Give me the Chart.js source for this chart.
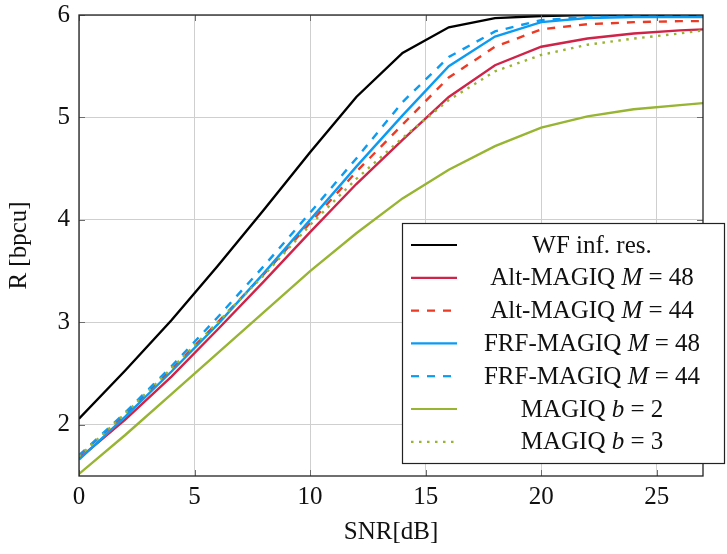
<!DOCTYPE html>
<html>
<head>
<meta charset="utf-8">
<script src="https://cdn.jsdelivr.net/npm/chart.js@4.4.1/dist/chart.umd.min.js"></script>
<style>
  html, body { margin: 0; padding: 0; background: #fff; }
  #wrap { width: 727px; height: 554px; }
</style>
</head>
<body>
<div id="wrap"><canvas id="c" width="727" height="554"></canvas></div>
<script>
// SNR grid (dB)
const snr = [0, 2, 4, 6, 8, 10, 12, 14, 16, 18, 20, 22, 24, 26, 27];

// Achievable rate R [bpcu] per scheme
const wfInfRes   = [2.06, 2.53, 3.02, 3.55, 4.10, 4.66, 5.20, 5.63, 5.88, 5.97, 5.99, 6.00, 6.00, 6.00, 6.00];
const altM48     = [1.67, 2.05, 2.47, 2.93, 3.40, 3.88, 4.35, 4.78, 5.20, 5.51, 5.69, 5.77, 5.82, 5.85, 5.86];
const altM44     = [1.70, 2.10, 2.54, 3.00, 3.47, 3.97, 4.47, 4.93, 5.39, 5.69, 5.86, 5.91, 5.93, 5.94, 5.94];
const frfM48     = [1.66, 2.08, 2.52, 2.98, 3.48, 4.00, 4.52, 5.02, 5.50, 5.79, 5.93, 5.97, 5.98, 5.98, 5.98];
const frfM44     = [1.70, 2.12, 2.57, 3.05, 3.55, 4.07, 4.60, 5.15, 5.59, 5.84, 5.95, 5.98, 5.99, 5.99, 5.99];
const magiqB2    = [1.52, 1.90, 2.30, 2.70, 3.10, 3.50, 3.87, 4.21, 4.49, 4.72, 4.90, 5.01, 5.08, 5.12, 5.14];
const magiqB3    = [1.69, 2.11, 2.55, 3.00, 3.46, 3.95, 4.40, 4.80, 5.17, 5.45, 5.61, 5.71, 5.77, 5.82, 5.85];

// Legend names; text between $...$ is set in italics
const seriesNames = [
  'WF inf. res.',
  'Alt-MAGIQ $M$ = 48',
  'Alt-MAGIQ $M$ = 44',
  'FRF-MAGIQ $M$ = 48',
  'FRF-MAGIQ $M$ = 44',
  'MAGIQ $b$ = 2',
  'MAGIQ $b$ = 3'
];

// Axis ticks
const xTicks = [0, 5, 10, 15, 20, 25];
const yTicks = [2, 3, 4, 5, 6];

const SERIF = '"Liberation Serif", "DejaVu Serif", serif';

const styles = [
  { color: '#000000', dash: [] },
  { color: '#cf2348', dash: [] },
  { color: '#ec3a24', dash: [8, 8] },
  { color: '#0c9bf2', dash: [] },
  { color: '#0c9bf2', dash: [8, 8] },
  { color: '#97b432', dash: [] },
  { color: '#97b432', dash: [2.5, 5.5] }
];
const seriesData = [wfInfRes, altM48, altM44, frfM48, frfM44, magiqB2, magiqB3];

const datasets = seriesData.map((vals, i) => ({
  label: seriesNames[i].replace(/\$/g, ''),
  data: vals.map((v, k) => ({ x: snr[k], y: v })),
  borderColor: styles[i].color,
  borderDash: styles[i].dash,
  borderWidth: 2.4,
  pointRadius: 0,
  tension: 0,
  fill: false,
  order: seriesData.length - i
}));

// Inner tick marks and the closed frame round the plot area
const framePlugin = {
  id: 'frame',
  afterDatasetsDraw(chart) {
    const { ctx, chartArea: a, scales } = chart;
    ctx.save();
    ctx.strokeStyle = '#6e6e6e';
    ctx.lineWidth = 1;
    const L = 6;
    xTicks.forEach(v => {
      const px = Math.round(scales.x.getPixelForValue(v)) + 0.5;
      ctx.beginPath();
      ctx.moveTo(px, a.bottom); ctx.lineTo(px, a.bottom - L);
      ctx.moveTo(px, a.top); ctx.lineTo(px, a.top + L);
      ctx.stroke();
    });
    yTicks.forEach(v => {
      const py = Math.round(scales.y.getPixelForValue(v)) + 0.5;
      ctx.beginPath();
      ctx.moveTo(a.left, py); ctx.lineTo(a.left + L, py);
      ctx.moveTo(a.right, py); ctx.lineTo(a.right - L, py);
      ctx.stroke();
    });
    ctx.strokeStyle = '#222';
    ctx.lineWidth = 1.3;
    ctx.strokeRect(a.left, a.top, a.right - a.left, a.bottom - a.top);
    ctx.restore();
  }
};

// Boxed legend in the lower right, labels centred beside the line samples
const legendPlugin = {
  id: 'boxLegend',
  afterDraw(chart) {
    const { ctx } = chart;
    const box = { x: 402.5, y: 223.5, w: 322, h: 240 };
    ctx.save();
    ctx.fillStyle = '#fff';
    ctx.fillRect(box.x, box.y, box.w, box.h);
    ctx.strokeStyle = '#222';
    ctx.lineWidth = 1.2;
    ctx.strokeRect(box.x, box.y, box.w, box.h);
    const rowTop = 245, rowStep = 32.8;
    const size = 25;
    seriesNames.forEach((name, i) => {
      const cy = rowTop + i * rowStep;
      const ds = chart.data.datasets[i];
      ctx.strokeStyle = ds.borderColor;
      ctx.lineWidth = 2.2;
      ctx.setLineDash(ds.borderDash);
      ctx.beginPath();
      ctx.moveTo(411, cy); ctx.lineTo(457, cy);
      ctx.stroke();
      ctx.setLineDash([]);
      // split into roman / italic runs
      const parts = name.split('$').map((t, k) => ({ t, it: k % 2 === 1 })).filter(p => p.t);
      const fontOf = p => (p.it ? 'italic ' : '') + size + 'px ' + SERIF;
      let total = 0;
      parts.forEach(p => { ctx.font = fontOf(p); total += ctx.measureText(p.t).width; });
      let x = 592 - total / 2;
      ctx.fillStyle = '#111';
      ctx.textBaseline = 'middle';
      ctx.textAlign = 'left';
      parts.forEach(p => {
        ctx.font = fontOf(p);
        ctx.fillText(p.t, x, cy + 1);
        x += ctx.measureText(p.t).width;
      });
    });
    ctx.restore();
  }
};

new Chart(document.getElementById('c'), {
  type: 'line',
  data: { datasets },
  options: {
    responsive: false,
    animation: false,
    layout: { padding: { top: 15, right: 24, left: 0, bottom: 0 } },
    plugins: { legend: { display: false }, tooltip: { enabled: false } },
    scales: {
      x: {
        type: 'linear',
        min: 0, max: 27,
        afterBuildTicks: s => { s.ticks = xTicks.map(v => ({ value: v })); },
        afterFit: s => { s.height = 78; s.paddingLeft = 0; s.paddingRight = 0; },
        grid: { color: '#cfcfcf', lineWidth: 1, drawTicks: false },
        border: { display: false },
        ticks: { color: '#111', font: { family: SERIF, size: 25 }, padding: 6, maxRotation: 0 },
        title: { display: true, text: 'SNR[dB]', color: '#111', font: { family: SERIF, size: 25 }, padding: { top: 0, bottom: 7 } }
      },
      y: {
        type: 'linear',
        min: 1.5, max: 6,
        afterBuildTicks: s => { s.ticks = yTicks.map(v => ({ value: v })); },
        afterFit: s => { s.width = 79; s.paddingTop = 0; s.paddingBottom = 0; },
        grid: { color: '#cfcfcf', lineWidth: 1, drawTicks: false },
        border: { display: false },
        ticks: { color: '#111', font: { family: SERIF, size: 25 }, padding: 9 },
        title: { display: true, text: 'R [bpcu]', color: '#111', font: { family: SERIF, size: 25 }, padding: { top: 4, bottom: 0 } }
      }
    }
  },
  plugins: [framePlugin, legendPlugin]
});
</script>
</body>
</html>
